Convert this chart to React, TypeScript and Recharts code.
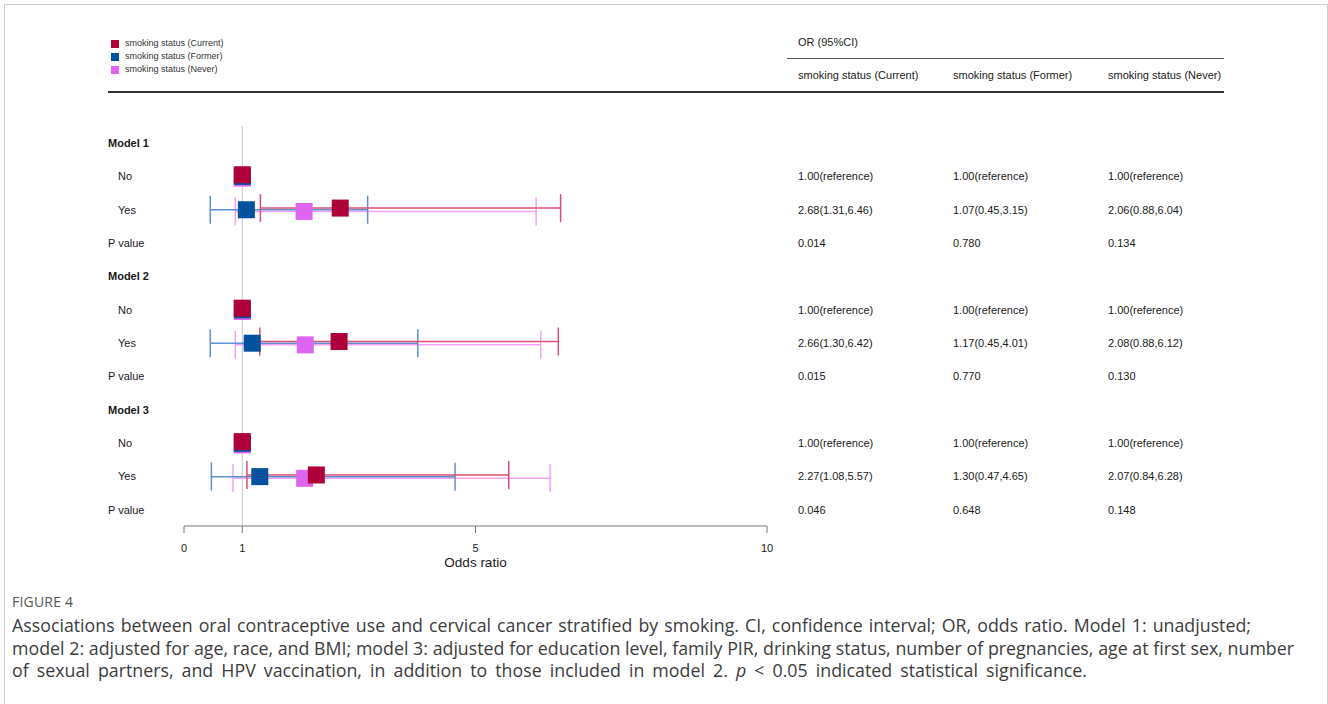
import React from 'react';
import { ScatterChart, Scatter, XAxis, YAxis, ErrorBar, ReferenceLine, Label } from 'recharts';

// Forest plot: odds ratios by smoking status across three models
const GROUPS = ['smoking status (Current)', 'smoking status (Former)', 'smoking status (Never)'];
const MODELS = ['Model 1', 'Model 2', 'Model 3'];
const X_TICKS = [0, 1, 5, 10];

const CURRENT_OR = [2.68, 2.66, 2.27];
const CURRENT_LO = [1.31, 1.3, 1.08];
const CURRENT_HI = [6.46, 6.42, 5.57];
const CURRENT_P = ['0.014', '0.015', '0.046'];

const FORMER_OR = [1.07, 1.17, 1.3];
const FORMER_LO = [0.45, 0.45, 0.47];
const FORMER_HI = [3.15, 4.01, 4.65];
const FORMER_P = ['0.780', '0.770', '0.648'];

const NEVER_OR = [2.06, 2.08, 2.07];
const NEVER_LO = [0.88, 0.88, 0.84];
const NEVER_HI = [6.04, 6.12, 6.28];
const NEVER_P = ['0.134', '0.130', '0.148'];

const COLORS = ['#AE0039', '#04519E', '#E064F2'];
const LINE_COLORS = ['#DC4E72', '#5D90D2', '#F2A2F8'];
const DODGE = [-0.05, 0, 0.05];
const COL_X = [798, 953, 1108];
const FONT = '"Liberation Sans", Arial, Helvetica, sans-serif';

const groupData = [
  { or: CURRENT_OR, lo: CURRENT_LO, hi: CURRENT_HI, p: CURRENT_P },
  { or: FORMER_OR, lo: FORMER_LO, hi: FORMER_HI, p: FORMER_P },
  { or: NEVER_OR, lo: NEVER_LO, hi: NEVER_HI, p: NEVER_P },
];

const fmt = (v: number) => v.toFixed(2);

type Row = { label: string; kind: 'model' | 'sub' | 'p'; cells: string[] };
const rows: Row[] = [];
MODELS.forEach((m, mi) => {
  rows.push({ label: m, kind: 'model', cells: [] });
  rows.push({ label: 'No', kind: 'sub', cells: groupData.map(() => '1.00(reference)') });
  rows.push({
    label: 'Yes',
    kind: 'sub',
    cells: groupData.map((g) => `${fmt(g.or[mi])}(${fmt(g.lo[mi])},${fmt(g.hi[mi])})`),
  });
  rows.push({ label: 'P value', kind: 'p', cells: groupData.map((g) => g.p[mi]) });
});
const ROW_TICKS = rows.map((_, i) => i);

// square markers: reference rows at OR = 1 plus the estimate rows
const pointSeries = groupData.map((g, gi) =>
  MODELS.flatMap((_, mi) => [
    { or: 1, y: mi * 4 + 1 + DODGE[gi] },
    { or: g.or[mi], y: mi * 4 + 2 + DODGE[gi] },
  ])
);
// confidence intervals, only for the estimate rows
const ciSeries = groupData.map((g, gi) =>
  MODELS.map((_, mi) => ({
    or: g.or[mi],
    y: mi * 4 + 2 + DODGE[gi],
    err: [g.or[mi] - g.lo[mi], g.hi[mi] - g.or[mi]],
  }))
);

const SQ = 17;
const square = (color: string) => (props: any) => (
  <rect x={props.cx - SQ / 2} y={props.cy - SQ / 2} width={SQ} height={SQ} fill={color} />
);
const nothing = () => <g />;

// row labels on the left and the OR table on the right, both placed on the row ticks
const RowTick = (props: any) => {
  const { y, payload } = props;
  const row = rows[payload.value as number];
  if (!row) return <g />;
  return (
    <g fontFamily={FONT} fontSize={11}>
      <text
        x={row.kind === 'sub' ? 118 : 108}
        y={y}
        dy="0.35em"
        fill="#1a1a1a"
        fontWeight={row.kind === 'model' ? 700 : 400}
      >
        {row.label}
      </text>
      {row.cells.map((c, k) => (
        <text key={k} x={COL_X[k]} y={y} dy="0.35em" fill="#1a1a1a">
          {c}
        </text>
      ))}
    </g>
  );
};

// draw order: lines first, then squares with Current on top
const ORDER = [2, 1, 0];

const captionLine: React.CSSProperties = {
  position: 'absolute',
  left: 12,
  whiteSpace: 'nowrap',
  fontFamily: '"Open Sans", "Noto Sans", sans-serif',
  fontSize: 17.8,
  lineHeight: '22px',
  color: '#3c3c3c',
  textAlign: 'justify',
  textAlignLast: 'justify',
};

export default function App() {
  return (
    <div
      style={{
        position: 'fixed',
        left: 0,
        top: 0,
        width: 1328,
        height: 704,
        overflow: 'hidden',
        background: '#fff',
      }}
    >
      <div
        style={{
          position: 'absolute',
          left: 4,
          top: 4,
          width: 1324,
          height: 700,
          boxSizing: 'border-box',
          border: '1px solid #cfcfcf',
          borderBottom: 'none',
        }}
      />

      {/* legend */}
      {GROUPS.map((g, i) => (
        <div key={g} style={{ position: 'absolute', left: 111, top: 39 + i * 13, height: 9, display: 'flex', alignItems: 'center' }}>
          <div style={{ width: 8, height: 8, background: COLORS[i] }} />
          <span style={{ marginLeft: 6, fontFamily: FONT, fontSize: 9, color: '#333', lineHeight: '9px' }}>{g}</span>
        </div>
      ))}

      {/* table header */}
      <div style={{ position: 'absolute', left: COL_X[0], top: 36, fontFamily: FONT, fontSize: 11, color: '#1a1a1a' }}>
        OR (95%CI)
      </div>
      <div style={{ position: 'absolute', left: 787, top: 58, width: 437, height: 1, background: '#555' }} />
      {GROUPS.map((g, i) => (
        <div key={g} style={{ position: 'absolute', left: COL_X[i], top: 69, fontFamily: FONT, fontSize: 11, color: '#1a1a1a', whiteSpace: 'nowrap' }}>
          {g}
        </div>
      ))}
      <div style={{ position: 'absolute', left: 108, top: 91, width: 1116, height: 2, background: '#333' }} />

      <div style={{ position: 'absolute', left: 0, top: 0 }}>
        <ScatterChart width={1328} height={704} margin={{ top: 93, right: 561, bottom: 128, left: 174 }}>
          <XAxis
            type="number"
            dataKey="or"
            domain={[0, 10]}
            ticks={X_TICKS}
            allowDataOverflow
            height={50}
            tickSize={7}
            tickMargin={11}
            stroke="#777"
            tick={{ fontSize: 11, fill: '#1a1a1a', fontFamily: FONT }}
          >
            <Label value="Odds ratio" position="insideBottom" offset={9} style={{ fontSize: 13.5, fill: '#1a1a1a', fontFamily: FONT }} />
          </XAxis>
          <YAxis
            type="number"
            dataKey="y"
            domain={[-1.5, 11.48]}
            reversed
            allowDataOverflow
            ticks={ROW_TICKS}
            interval={0}
            width={10}
            axisLine={false}
            tickLine={false}
            tick={RowTick}
          />
          <ReferenceLine
            segment={[
              { x: 1, y: -0.5 },
              { x: 1, y: 11.48 },
            ]}
            stroke="#cfcfcf"
            strokeWidth={1.2}
          />
          {ORDER.map((gi) => (
            <Scatter key={`ci-${gi}`} data={ciSeries[gi]} shape={nothing} isAnimationActive={false}>
              <ErrorBar dataKey="err" direction="x" width={14} stroke={LINE_COLORS[gi]} strokeWidth={1.5} isAnimationActive={false} />
            </Scatter>
          ))}
          {ORDER.map((gi) => (
            <Scatter key={`pt-${gi}`} data={pointSeries[gi]} shape={square(COLORS[gi])} isAnimationActive={false} />
          ))}
        </ScatterChart>
      </div>

      {/* caption */}
      <div style={{ ...captionLine, top: 591, fontSize: 14, color: '#555', letterSpacing: 0.2, textAlign: 'left', textAlignLast: 'left' }}>
        FIGURE 4
      </div>
      <div style={{ ...captionLine, top: 614, width: 1239 }}>
        Associations between oral contraceptive use and cervical cancer stratified by smoking. CI, confidence interval; OR, odds ratio. Model 1: unadjusted;
      </div>
      <div style={{ ...captionLine, top: 637, width: 1282 }}>
        model 2: adjusted for age, race, and BMI; model 3: adjusted for education level, family PIR, drinking status, number of pregnancies, age at first sex, number
      </div>
      <div style={{ ...captionLine, top: 659, width: 1075 }}>
        of sexual partners, and HPV vaccination, in addition to those included in model 2. <i>p</i> &lt; 0.05 indicated statistical significance.
      </div>
    </div>
  );
}
